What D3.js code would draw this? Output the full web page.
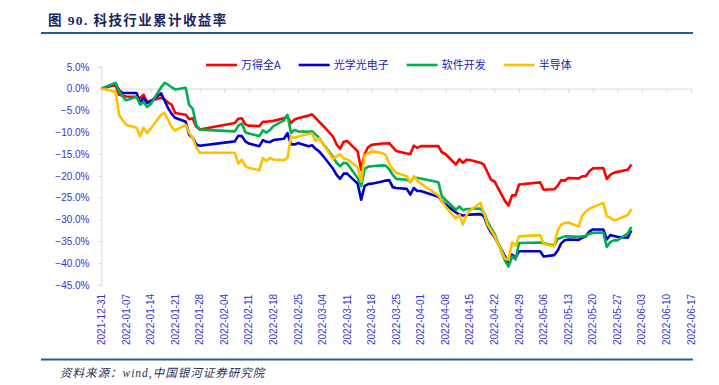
<!DOCTYPE html>
<html>
<head>
<meta charset="utf-8">
<script src="https://cdn.jsdelivr.net/npm/d3@7"></script>
<style>
  body { margin: 0; background: #fff; }
  svg { display: block; }
</style>
</head>
<body>
<div id="chart-area"></div>
<script>
// trading days shown in the chart
const dates = [
  "2021-12-31",
  "2022-01-04","2022-01-05","2022-01-06","2022-01-07",
  "2022-01-10","2022-01-11","2022-01-12","2022-01-13","2022-01-14",
  "2022-01-17","2022-01-18","2022-01-19","2022-01-20","2022-01-21",
  "2022-01-24","2022-01-25","2022-01-26","2022-01-27","2022-01-28",
  "2022-02-07","2022-02-08","2022-02-09","2022-02-10","2022-02-11",
  "2022-02-14","2022-02-15","2022-02-16","2022-02-17","2022-02-18",
  "2022-02-21","2022-02-22","2022-02-23","2022-02-24","2022-02-25",
  "2022-02-28","2022-03-01","2022-03-02","2022-03-03","2022-03-04",
  "2022-03-07","2022-03-08","2022-03-09","2022-03-10","2022-03-11",
  "2022-03-14","2022-03-15","2022-03-16","2022-03-17","2022-03-18",
  "2022-03-21","2022-03-22","2022-03-23","2022-03-24","2022-03-25",
  "2022-03-28","2022-03-29","2022-03-30","2022-03-31","2022-04-01",
  "2022-04-06","2022-04-07","2022-04-08",
  "2022-04-11","2022-04-12","2022-04-13","2022-04-14","2022-04-15",
  "2022-04-18","2022-04-19","2022-04-20","2022-04-21","2022-04-22",
  "2022-04-25","2022-04-26","2022-04-27","2022-04-28","2022-04-29",
  "2022-05-05","2022-05-06",
  "2022-05-09","2022-05-10","2022-05-11","2022-05-12","2022-05-13",
  "2022-05-16","2022-05-17","2022-05-18","2022-05-19","2022-05-20",
  "2022-05-23","2022-05-24","2022-05-25","2022-05-26","2022-05-27",
  "2022-05-30","2022-05-31"
]

// 万得全A
const wandeA = [
  0,
  0.8,-1.4,-1.6,-1.8,
  -1.9,-2.2,-1.4,-3.1,-2.8,
  -2.1,-2.5,-3.2,-3.7,-5.6,
  -6.0,-7.0,-6.8,-8.7,-9.4,
  -7.9,-6.9,-6.8,-8.2,-8.5,
  -8.6,-7.6,-7.6,-7.5,-7.4,
  -6.8,-6.4,-7.9,-7.1,-6.8,
  -6.2,-5.9,-6.7,-7.6,-8.4,
  -11.0,-12.8,-13.8,-12.2,-12.0,
  -14.4,-18.6,-15.0,-13.4,-12.9,
  -12.6,-12.6,-12.5,-13.4,-14.3,
  -14.9,-15.0,-13.1,-13.6,-13.2,
  -13.2,-14.6,-15.0,
  -17.4,-16.2,-17.0,-16.3,-16.4,
  -17.0,-17.5,-19.2,-20.9,-21.3,
  -25.8,-26.8,-24.5,-24.5,-22.0,
  -21.5,-23.2,
  -23.1,-22.3,-21.0,-21.1,-20.5,
  -20.6,-20.1,-20.1,-19.0,-18.3,
  -18.2,-20.7,-19.8,-19.3,-19.1,
  -18.6,-17.4
]

// 光学光电子
const optoElec = [
  0,
  1.2,-0.3,-1.0,-1.0,
  -1.0,-3.3,-2.1,-3.3,-2.9,
  -1.1,-2.8,-4.5,-5.8,-6.7,
  -7.6,-10.6,-11.3,-12.8,-13.1,
  -12.1,-10.8,-10.9,-12.1,-12.6,
  -13.2,-11.8,-12.2,-12.3,-11.8,
  -11.5,-10.2,-12.8,-12.8,-12.5,
  -13.2,-13.0,-13.8,-14.4,-15.3,
  -18.4,-19.8,-20.7,-19.5,-19.5,
  -21.8,-25.5,-22.3,-21.9,-21.8,
  -21.3,-21.1,-21.0,-22.6,-22.8,
  -23.0,-24.3,-22.8,-23.5,-23.5,
  -24.8,-25.8,-26.5,
  -28.4,-28.9,-29.1,-29.0,-28.9,
  -28.8,-29.3,-31.5,-33.0,-34.0,
  -38.5,-40.0,-38.1,-38.8,-37.3,
  -37.3,-38.5,
  -38.2,-37.2,-35.5,-34.8,-34.6,
  -34.7,-34.2,-33.9,-32.8,-32.3,
  -32.3,-34.6,-33.6,-33.8,-34.0,
  -34.2,-32.5
]

// 软件开发
const software = [
  0,
  1.3,-0.5,-1.8,-2.7,
  -1.9,-3.7,-3.1,-4.2,-3.6,
  0.3,1.3,0.9,0.3,-0.2,
  0.2,-3.8,-4.6,-8.3,-9.4,
  -9.8,-8.5,-8.0,-10.0,-10.3,
  -10.9,-9.6,-10.1,-9.5,-8.6,
  -7.3,-6.0,-10.2,-9.5,-9.8,
  -9.9,-9.8,-10.5,-11.3,-12.5,
  -15.7,-17.0,-17.8,-17.0,-17.2,
  -20.5,-22.4,-18.4,-17.9,-17.8,
  -17.6,-17.7,-18.5,-19.8,-20.7,
  -20.9,-21.4,-20.4,-20.5,-20.6,
  -21.5,-24.7,-25.5,
  -27.8,-27.0,-27.9,-27.6,-27.6,
  -27.5,-28.5,-30.5,-32.0,-33.3,
  -39.5,-40.8,-38.5,-39.2,-35.4,
  -35.3,-35.5,
  -36.0,-34.5,-34.2,-33.9,-33.9,
  -34.0,-33.9,-33.8,-33.3,-33.1,
  -33.0,-36.3,-35.2,-34.8,-34.8,
  -33.2,-31.7
]

// 半导体
const semi = [
  0,
  -0.8,-6.0,-7.2,-8.3,
  -9.0,-10.9,-9.0,-10.2,-9.2,
  -6.0,-5.6,-7.2,-8.8,-9.6,
  -8.3,-10.2,-11.3,-13.5,-14.7,
  -14.7,-17.2,-16.3,-17.8,-18.2,
  -18.7,-15.9,-16.6,-15.9,-16.3,
  -16.4,-15.9,-10.9,-11.3,-11.0,
  -10.4,-10.3,-12.0,-11.4,-12.5,
  -16.2,-15.5,-15.1,-16.0,-16.2,
  -18.0,-21.3,-15.3,-14.8,-14.4,
  -14.8,-15.2,-17.2,-18.5,-19.3,
  -20.1,-21.5,-20.1,-21.0,-21.8,
  -24.5,-25.9,-27.0,
  -29.8,-29.0,-31.2,-29.0,-28.0,
  -26.2,-28.5,-31.2,-32.5,-33.8,
  -39.0,-39.3,-35.3,-36.0,-33.9,
  -33.6,-35.6,
  -36.2,-32.5,-31.2,-30.8,-30.7,
  -31.6,-29.2,-28.2,-27.6,-27.2,
  -26.2,-29.3,-29.6,-30.2,-30.0,
  -29.0,-27.6
]

const seriesNames = ["万得全A", "光学光电子", "软件开发", "半导体"]
const seriesColors = ["#ff0000", "#0000cc", "#00b050", "#ffc000"]
const seriesValues = [wandeA, optoElec, software, semi]

const xTickLabels = [
  "2021-12-31","2022-01-07","2022-01-14","2022-01-21","2022-01-28",
  "2022-02-04","2022-02-11","2022-02-18","2022-02-25","2022-03-04",
  "2022-03-11","2022-03-18","2022-03-25","2022-04-01","2022-04-08",
  "2022-04-15","2022-04-22","2022-04-29","2022-05-06","2022-05-13",
  "2022-05-20","2022-05-27","2022-06-03","2022-06-10","2022-06-17"
]
const yTicks = [5, 0, -5, -10, -15, -20, -25, -30, -35, -40, -45]

const titleText = "图 90. 科技行业累计收益率"
const sourceText = "资料来源：wind,中国银河证券研究院"

const W = 719, H = 385
const AXIS_BLUE = "#3636c8"
const LATIN = "'Liberation Sans', Arial, 'Noto Sans CJK SC', sans-serif"

const svg = d3.select("#chart-area").append("svg")
    .attr("width", W)
    .attr("height", H)

const parseTime = d3.timeParse("%Y-%m-%d")

// scales
const x = d3.scaleTime()
    .domain([parseTime(xTickLabels[0]), parseTime(xTickLabels[xTickLabels.length - 1])])
    .range([101.5, 691])
const y = d3.scaleLinear()
    .domain([d3.min(yTicks), d3.max(yTicks)])
    .range([284.8, 66.8])

// header + footer
svg.append("text")
    .attr("x", 48)
    .attr("y", 25)
    .attr("fill", "#18255e")
    .style("font-family", "'Liberation Serif', 'Noto Sans CJK SC', serif")
    .style("font-weight", "bold")
    .style("font-size", "13.5px")
    .style("letter-spacing", "1.4px")
    .text(titleText)

svg.append("line")
    .attr("x1", 41).attr("x2", 693)
    .attr("y1", 33).attr("y2", 33)
    .attr("stroke", "#2a5a9a")
    .attr("stroke-width", 2)

svg.append("line")
    .attr("x1", 41).attr("x2", 693)
    .attr("y1", 359.5).attr("y2", 359.5)
    .attr("stroke", "#2a5a9a")
    .attr("stroke-width", 2)

svg.append("text")
    .attr("x", 60)
    .attr("y", 377)
    .attr("fill", "#2a2f55")
    .style("font-family", "'Liberation Serif', 'Noto Sans CJK SC', serif")
    .style("font-style", "italic")
    .style("font-size", "11.5px")
    .style("letter-spacing", "1px")
    .text(sourceText)

// y axis
const yAxisCall = d3.axisLeft(y)
    .tickValues(yTicks)
    .tickSize(3)
    .tickPadding(9)
    .tickFormat(d => d3.format(".1f")(d) + "%")

const yAxis = svg.append("g")
    .attr("class", "y axis")
    .attr("transform", `translate(${x.range()[0]},0)`)
    .call(yAxisCall)
yAxis.select(".domain").attr("stroke", "#d9d9d9")
yAxis.selectAll(".tick line").attr("stroke", "#d9d9d9")
yAxis.selectAll(".tick text")
    .attr("fill", AXIS_BLUE)
    .style("font-family", LATIN)
    .style("font-size", "10px")

// x axis along 0%
const xTicks = xTickLabels.map(parseTime)
const xAxisCall = d3.axisBottom(x)
    .tickValues(xTicks)
    .tickSize(4)
    .tickSizeOuter(0)
    .tickFormat("")
const xAxis = svg.append("g")
    .attr("class", "x axis")
    .attr("transform", `translate(0,${y(0)})`)
    .call(xAxisCall)
xAxis.select(".domain").attr("stroke", "#d9d9d9")
xAxis.selectAll(".tick line").attr("stroke", "#d9d9d9")

// date labels at the bottom
svg.append("g")
    .attr("class", "x-labels")
    .selectAll("text")
    .data(xTickLabels)
    .enter()
    .append("text")
        .attr("transform", d => `translate(${x(parseTime(d))},345) rotate(-90)`)
        .attr("dy", "0.35em")
        .attr("text-anchor", "start")
        .attr("fill", AXIS_BLUE)
        .style("font-family", LATIN)
        .style("font-size", "10px")
        .text(d => d)

// lines
const line = d3.line()
    .x(d => x(d.date))
    .y(d => y(d.value))

const lines = svg.append("g").attr("class", "lines")
seriesValues.forEach((vals, k) => {
    const data = dates.map((d, i) => ({ date: parseTime(d), value: vals[i] }))
    lines.append("path")
        .attr("fill", "none")
        .attr("stroke", seriesColors[k])
        .attr("stroke-width", 2.6)
        .attr("stroke-linejoin", "round")
        .attr("d", line(data))
})

// legend
const legend = svg.append("g").attr("class", "legend")
let lx = 206
seriesNames.forEach((name, k) => {
    legend.append("line")
        .attr("x1", lx).attr("x2", lx + 31)
        .attr("y1", 65).attr("y2", 65)
        .attr("stroke", seriesColors[k])
        .attr("stroke-width", 2.6)
    const t = legend.append("text")
        .attr("x", lx + 35)
        .attr("y", 65)
        .attr("dy", "0.36em")
        .attr("fill", "#2020b8")
        .style("font-family", "'Noto Sans CJK SC', " + LATIN)
        .style("font-size", "11px")
        .text(name)
    lx += 35 + t.node().getComputedTextLength() + 18
})
</script>
</body>
</html>
